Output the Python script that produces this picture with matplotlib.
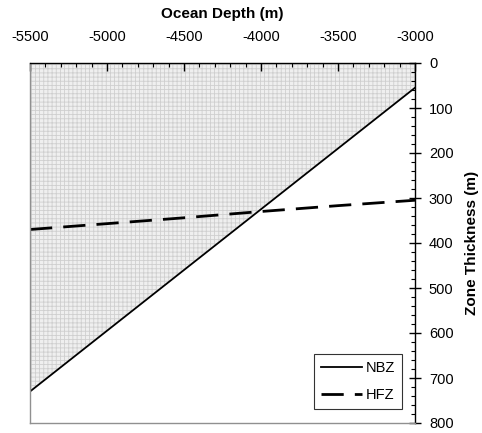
import matplotlib
matplotlib.use("Agg")
import matplotlib.pyplot as plt
from matplotlib.ticker import MultipleLocator
import numpy as np

plt.rcParams['font.family'] = ['Liberation Sans', 'DejaVu Sans']
plt.rcParams['axes.unicode_minus'] = False
plt.rcParams['hatch.color'] = '#cfcfcf'
plt.rcParams['hatch.linewidth'] = 0.6

ocean_depth = [-5500, -3000]
nbz = [730, 55]
hfz_depth = [-5500, -4500, -4000, -3500, -3000]
hfz = [370, 344, 330, 317, 305]

fig = plt.figure(figsize=(4.82, 4.33), dpi=100)
ax = fig.add_axes([30/482, 1-423/433, (415-30)/482, (423-63)/433])

ax.fill_between(ocean_depth, 0, nbz, facecolor='#efefef', hatch='++++', edgecolor='#cfcfcf', linewidth=0)
ax.plot(ocean_depth, nbz, color='black', lw=1.3, label='NBZ')
ax.plot(hfz_depth, hfz, color='black', lw=2.0, dashes=(8, 4), label='HFZ')

ax.set_xlim(-5500, -3000)
ax.set_ylim(800, 0)
ax.xaxis.tick_top()
ax.xaxis.set_label_position('top')
ax.yaxis.tick_right()
ax.yaxis.set_label_position('right')
ax.xaxis.set_major_locator(MultipleLocator(500))
ax.xaxis.set_minor_locator(MultipleLocator(100))
ax.yaxis.set_major_locator(MultipleLocator(100))
ax.yaxis.set_minor_locator(MultipleLocator(20))
ax.tick_params(axis='x', which='major', direction='in', length=6, width=1, labelsize=10.5, pad=14)
ax.tick_params(axis='x', which='minor', direction='in', length=3, width=0.8)
ax.tick_params(axis='y', which='major', direction='inout', length=8, width=1, labelsize=10.5, pad=6)
ax.tick_params(axis='y', which='minor', direction='in', length=3, width=0.8)

ax.set_xlabel('Ocean Depth (m)', fontsize=11, fontweight='bold', labelpad=8)
ax.set_ylabel('Zone Thickness (m)', fontsize=11, fontweight='bold', labelpad=8)

ax.spines['left'].set_color('#909090')
ax.spines['bottom'].set_color('#909090')
ax.spines['top'].set_color('black')
ax.spines['right'].set_color('black')
for s in ax.spines.values():
    s.set_linewidth(1)

leg = ax.legend(loc='lower right', bbox_to_anchor=(0.985, 0.02), fontsize=10.5, frameon=True,
                fancybox=False, handlelength=2.8, borderpad=0.45, labelspacing=0.9, handletextpad=0.3)
leg.get_frame().set_edgecolor('black')
leg.get_frame().set_linewidth(0.8)

fig.savefig('out.png', dpi=100)
